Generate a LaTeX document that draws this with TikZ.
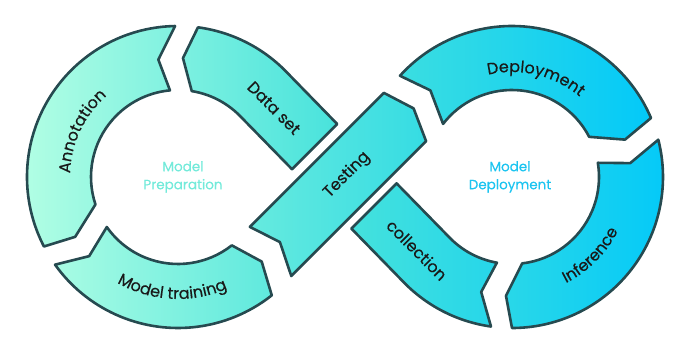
\documentclass[tikz,border=0pt]{standalone}
\usepackage{fontspec}
\setmainfont{Poppins}[FakeBold=0.3]
\usepackage{tikz}
\usetikzlibrary{calc, positioning, decorations.text}
\definecolor{MintColour}{RGB}{180,255,228}
\definecolor{TealColour}{RGB}{70,226,220}
\definecolor{CyanColour}{RGB}{0,200,250}
\definecolor{EdgeColour}{RGB}{38,74,80}
\definecolor{HubLeft}{RGB}{115,234,218}
\definecolor{HubRight}{RGB}{28,196,240}
\definecolor{InkColour}{RGB}{25,25,25}
\newcommand{\segfont}{\fontsize{16}{19}\selectfont}

\begin{document}
\begin{tikzpicture}[
  x=1pt, y=1pt,
  segment/.style={draw=EdgeColour, line width=2.6pt, line join=round},
  arclabel/.style={decorate, decoration={text along path, text align=center, text color=InkColour, text={|\segfont|#1}}},
  bandlabel/.style={font=\segfont, text=InkColour, inner sep=0pt},
  hublabel/.style={font=\fontsize{13.5}{18}\selectfont, align=center}
]
\useasboundingbox (-345,-176) rectangle (343,177);
\coordinate (L) at (-167,0);
\coordinate (R) at (167,0);

% left loop
\path[segment, left color=MintColour!97!TealColour, right color=MintColour!52!TealColour]
  ([shift={(91.1:151)}]L) arc[start angle=91.1, end angle=207.4, radius=151pt]
  -- ([shift={(210.2:119)}]L) -- ([shift={(198.4:87)}]L)
  arc[start angle=198.4, end angle=95.3, radius=87pt]
  -- ([shift={(99.5:119)}]L) -- cycle;
\path[segment, left color=MintColour!89!TealColour, right color=MintColour!23!TealColour]
  ([shift={(215.5:151)}]L) arc[start angle=215.5, end angle=308.4, radius=151pt]
  -- ([shift={(314.7:119)}]L) -- ([shift={(308.2:87)}]L)
  arc[start angle=308.2, end angle=215.1, radius=87pt]
  -- ([shift={(221.7:119)}]L) -- cycle;
\path[segment, left color=MintColour!49!TealColour, right color=MintColour!2!TealColour]
  (-7.8,53) -- ([shift={(45:151)}]L) arc[start angle=45, end angle=82.4, radius=151pt]
  -- ([shift={(87.6:119)}]L) -- ([shift={(80.9:87)}]L)
  arc[start angle=80.9, end angle=45, radius=87pt]
  -- (-53,7.8) -- cycle;

% crossing band
\path[segment, left color=MintColour!29!TealColour, right color=TealColour!76!CyanColour]
  (-95.1,-49.9) -- (38.9,84.1) -- (68.6,68.6) -- (81.1,35.8) -- (-53.7,-99) -- (-65.1,-65.1) -- cycle;

% right loop
\path[segment, left color=TealColour!84!CyanColour, right color=TealColour!4!CyanColour]
  ([shift={(137.9:151)}]R) arc[start angle=137.9, end angle=23, radius=151pt]
  -- ([shift={(18.3:119)}]R) -- ([shift={(27.5:87)}]R)
  arc[start angle=27.5, end angle=142.4, radius=87pt]
  -- ([shift={(133.3:119)}]R) -- cycle;
\path[segment, left color=TealColour!59!CyanColour, right color=TealColour!4!CyanColour]
  ([shift={(14.3:151)}]R) arc[start angle=14.3, end angle=-90, radius=151pt]
  -- ([shift={(-92.9:119)}]R) -- ([shift={(-83.3:87)}]R)
  arc[start angle=-83.3, end angle=9.4, radius=87pt]
  -- ([shift={(6.7:119)}]R) -- cycle;
\path[segment, left color=TealColour!98!CyanColour, right color=TealColour!54!CyanColour]
  ([shift={(-98:151)}]R) arc[start angle=-98, end angle=-135, radius=151pt]
  -- (6.4,-51.6) -- (51.6,-6.4) -- ([shift={(-135:87)}]R)
  arc[start angle=-135, end angle=-100, radius=87pt]
  -- ([shift={(-105:119)}]R) -- cycle;

% labels
\path[arclabel=Annotation] ([shift={(204.6:108)}]L) arc[start angle=204.6, end angle=104.6, radius=108pt];
\path[arclabel=Model training] ([shift={(217:122)}]L) arc[start angle=217, end angle=317, radius=122pt];
\path[arclabel=Deployment] ([shift={(126.5:105)}]R) arc[start angle=126.5, end angle=26.5, radius=105pt];
\path[arclabel=Inference] ([shift={(-95:119)}]R) arc[start angle=-95, end angle=5, radius=119pt];
\node[bandlabel, rotate=-45] (dataset) at (-71,69) {Data set};
\node[bandlabel, rotate=45] (testing) at (2,2) {Testing};
\node[bandlabel, rotate=-45] (collection) at (72,-73) {collection};
\node[hublabel, text=HubLeft] (prep) at (-162,0) {Model\\Preparation};
\node[hublabel, text=HubRight] (deploy) at (165,0) {Model\\Deployment};
\end{tikzpicture}
\end{document}
